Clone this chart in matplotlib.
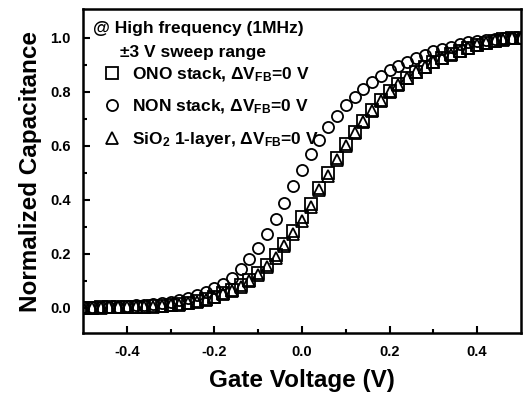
import matplotlib
matplotlib.use("Agg")
import matplotlib.pyplot as plt

plt.rcParams['font.family'] = ['Liberation Sans', 'DejaVu Sans']
plt.rcParams['font.weight'] = 'bold'
plt.rcParams['axes.unicode_minus'] = False
plt.rcParams['mathtext.fontset'] = 'custom'
plt.rcParams['mathtext.rm'] = 'Liberation Sans:bold'
plt.rcParams['mathtext.bf'] = 'Liberation Sans:bold'
plt.rcParams['mathtext.default'] = 'bf'

# gate voltage (V)
vgate = [-0.50, -0.48, -0.46, -0.44, -0.42, -0.40, -0.38, -0.36, -0.34, -0.32,
         -0.30, -0.28, -0.26, -0.24, -0.22, -0.20, -0.18, -0.16, -0.14, -0.12,
         -0.10, -0.08, -0.06, -0.04, -0.02, 0.00, 0.02, 0.04, 0.06, 0.08,
         0.10, 0.12, 0.14, 0.16, 0.18, 0.20, 0.22, 0.24, 0.26, 0.28,
         0.30, 0.32, 0.34, 0.36, 0.38, 0.40, 0.42, 0.44, 0.46, 0.48, 0.50]

# normalized capacitance
c_sio2 = [0.000, 0.001, 0.001, 0.002, 0.002, 0.003, 0.003, 0.004, 0.005, 0.006,
          0.009, 0.012, 0.017, 0.023, 0.030, 0.039, 0.050, 0.062, 0.078, 0.098,
          0.121, 0.152, 0.186, 0.228, 0.275, 0.320, 0.372, 0.435, 0.490, 0.548,
          0.600, 0.648, 0.690, 0.730, 0.768, 0.800, 0.826, 0.850, 0.873, 0.891,
          0.909, 0.924, 0.938, 0.950, 0.962, 0.972, 0.980, 0.988, 0.994, 0.998, 1.000]
c_ono = [0.001, 0.001, 0.002, 0.002, 0.003, 0.003, 0.004, 0.005, 0.006, 0.007,
         0.010, 0.014, 0.019, 0.025, 0.033, 0.042, 0.054, 0.067, 0.084, 0.105,
         0.128, 0.160, 0.195, 0.238, 0.285, 0.335, 0.385, 0.445, 0.500, 0.556,
         0.606, 0.652, 0.694, 0.734, 0.771, 0.803, 0.829, 0.853, 0.875, 0.893,
         0.911, 0.926, 0.940, 0.952, 0.963, 0.973, 0.981, 0.989, 0.995, 0.998, 1.000]
c_non = [0.002, 0.003, 0.003, 0.004, 0.005, 0.007, 0.009, 0.011, 0.014, 0.018,
         0.023, 0.030, 0.037, 0.047, 0.060, 0.072, 0.090, 0.112, 0.145, 0.180,
         0.222, 0.272, 0.330, 0.390, 0.450, 0.510, 0.570, 0.622, 0.670, 0.712,
         0.750, 0.782, 0.812, 0.838, 0.860, 0.880, 0.896, 0.911, 0.925, 0.938,
         0.950, 0.960, 0.968, 0.976, 0.984, 0.990, 0.994, 0.997, 0.999, 1.000, 1.000]

fig = plt.figure(figsize=(5.27, 4.0), dpi=100)
ax = fig.add_axes([0.1575, 0.1675, 0.831, 0.81])

mk = dict(linestyle='none', markerfacecolor='none', markeredgecolor='black',
          markersize=8, markeredgewidth=1.3)
l1, = ax.plot(vgate, c_ono, marker='s', **mk)
l2, = ax.plot(vgate, c_non, marker='o', **mk)
l3, = ax.plot(vgate, c_sio2, marker='^', **mk)

ax.set_xlim(-0.5, 0.5)
ax.set_ylim(-0.093, 1.107)
ax.set_xticks([-0.4, -0.2, 0.0, 0.2, 0.4])
ax.set_xticks([-0.3, -0.1, 0.1, 0.3], minor=True)
ax.set_yticks([0.0, 0.2, 0.4, 0.6, 0.8, 1.0])
ax.set_yticks([0.1, 0.3, 0.5, 0.7, 0.9], minor=True)
ax.tick_params(which='both', direction='in', width=1.5, labelsize=10.5)
ax.tick_params(which='major', length=5)
ax.tick_params(which='minor', length=3)
ax.tick_params(axis='x', pad=9)
ax.tick_params(axis='y', pad=9)
for s in ax.spines.values():
    s.set_linewidth(1.8)

ax.set_xlabel('Gate Voltage (V)', fontsize=17.5, fontweight='bold', labelpad=7)
ax.set_ylabel('Normalized Capacitance', fontsize=17.5, fontweight='bold', labelpad=6)

ax.text(0.023, 0.941, '@ High frequency (1MHz)', transform=ax.transAxes,
        fontsize=12.5, fontweight='bold', va='center', ha='left')
ax.text(0.084, 0.867, '\u00b13 V sweep range', transform=ax.transAxes,
        fontsize=12.5, fontweight='bold', va='center', ha='left')

labels = [r'ONO stack, $\Delta$V$_{FB}$=0 V',
          r'NON stack, $\Delta$V$_{FB}$=0 V',
          r'SiO$_2$ 1-layer, $\Delta$V$_{FB}$=0 V']
leg = ax.legend([l1, l2, l3], labels, loc='upper left',
                bbox_to_anchor=(0.043, 0.825), frameon=False, fontsize=12.5,
                handletextpad=0.55, labelspacing=0.78, handlelength=1.2,
                borderaxespad=0, borderpad=0)

fig.savefig('out.png', dpi=100)
